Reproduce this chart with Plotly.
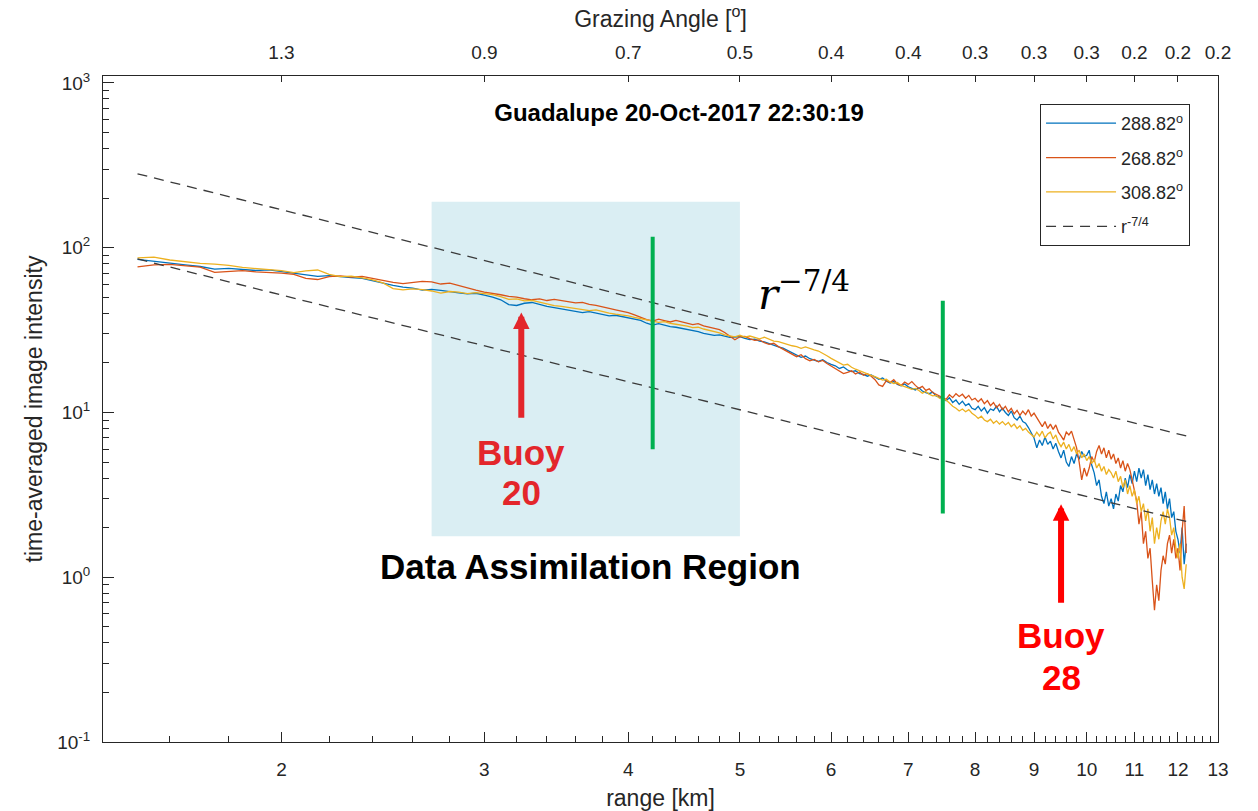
import math
import plotly.graph_objects as go

# ---------------- data ----------------
range_km = [
    1.50, 1.55, 1.60, 1.65, 1.70, 1.75, 1.80, 1.85, 1.90, 1.95,
    2.00, 2.05, 2.10, 2.15, 2.20, 2.25, 2.30, 2.35, 2.40, 2.45,
    2.50, 2.55, 2.60, 2.65, 2.70, 2.75, 2.80, 2.85, 2.90, 2.95,
    3.00, 3.05, 3.10, 3.15, 3.20, 3.25, 3.30, 3.35, 3.40, 3.45,
    3.50, 3.55, 3.60, 3.65, 3.70, 3.75, 3.80, 3.85, 3.90, 3.95,
    4.00, 4.05, 4.10, 4.15, 4.20, 4.25, 4.30, 4.35, 4.40, 4.45,
    4.50, 4.55, 4.60, 4.65, 4.70, 4.75, 4.80, 4.85, 4.90, 4.95,
    5.00, 5.05, 5.10, 5.15, 5.20, 5.25, 5.30, 5.35, 5.40, 5.45,
    5.50, 5.55, 5.60, 5.65, 5.70, 5.75, 5.80, 5.85, 5.90, 5.95,
    6.00, 6.05, 6.10, 6.15, 6.20, 6.25, 6.30, 6.35, 6.40, 6.45,
    6.50, 6.55, 6.60, 6.65, 6.70, 6.75, 6.80, 6.85, 6.90, 6.95,
    7.00, 7.05, 7.10, 7.15, 7.20, 7.25, 7.30, 7.35, 7.40, 7.45,
    7.50, 7.55, 7.60, 7.65, 7.70, 7.75, 7.80, 7.85, 7.90, 7.95,
    8.00, 8.05, 8.10, 8.15, 8.20, 8.25, 8.30, 8.35, 8.40, 8.45,
    8.50, 8.55, 8.60, 8.65, 8.70, 8.75, 8.80, 8.85, 8.90, 8.95,
    9.00, 9.05, 9.10, 9.15, 9.20, 9.25, 9.30, 9.35, 9.40, 9.45,
    9.50, 9.55, 9.60, 9.65, 9.70, 9.75, 9.80, 9.85, 9.90, 9.95,
    10.00, 10.05, 10.10, 10.15, 10.20, 10.25, 10.30, 10.35, 10.40, 10.45,
    10.50, 10.55, 10.60, 10.65, 10.70, 10.75, 10.80, 10.85, 10.90, 10.95,
    11.00, 11.05, 11.10, 11.15, 11.20, 11.25, 11.30, 11.35, 11.40, 11.45,
    11.50, 11.55, 11.60, 11.65, 11.70, 11.75, 11.80, 11.85, 11.90, 11.95,
    12.00, 12.05, 12.10, 12.15, 12.20,
]

intensity_288 = [
    85.0, 82.5, 80.8, 78.6, 76.9, 74.2, 74.9, 73.8, 72.7, 73.4,
    71.5, 70.2, 68.1, 67.0, 67.6, 66.4, 65.8, 65.1, 62.9, 61.2,
    59.0, 57.6, 56.8, 55.2, 55.8, 55.0, 53.9, 53.2, 52.5, 52.9,
    51.5, 50.2, 48.3, 45.1, 44.6, 46.0, 46.5, 45.2, 44.1, 43.3,
    42.6, 41.9, 41.2, 40.4, 40.9, 40.0, 39.1, 38.6, 38.9, 38.1,
    37.6, 36.9, 36.2, 34.8, 33.9, 34.6, 33.8, 33.2, 32.9, 32.4,
    32.0, 31.4, 30.9, 30.2, 29.9, 29.4, 29.6, 29.0, 28.6, 28.7,
    28.9, 28.2, 27.7, 27.9, 27.1, 26.8, 26.2, 25.4, 25.0, 24.6,
    23.8, 23.0, 22.1, 21.6, 22.0, 21.2, 20.8, 20.4, 20.9, 20.1,
    19.6, 19.2, 18.5, 18.9, 18.1, 17.7, 17.9, 17.2, 17.0, 16.6,
    16.9, 16.3, 15.9, 16.2, 15.5, 15.1, 15.4, 14.8, 14.5, 14.9,
    14.3, 14.0, 13.7, 14.1, 13.5, 13.2, 13.0, 13.3, 12.6, 12.4,
    12.1, 11.8, 12.3, 11.5, 11.9, 11.2, 11.7, 11.0, 11.3, 10.6,
    10.4, 10.9, 10.2, 10.7, 9.9, 10.5, 10.3, 10.9, 10.1, 10.6,
    10.0, 9.6, 10.2, 9.3, 9.0, 9.5, 8.8, 8.6, 8.1, 7.6,
    7.0, 6.1, 6.8, 6.3, 7.1, 6.4, 6.7, 6.0, 6.5, 5.8,
    5.3, 5.9, 5.0, 4.7, 5.4, 4.9, 5.6, 5.2, 5.8, 5.4,
    5.5, 5.9, 4.8, 4.3, 3.6, 3.9, 3.1, 2.8, 3.3, 2.7,
    3.0, 2.6, 3.2, 2.9, 3.6, 3.3, 4.0, 3.5, 4.2, 3.7,
    4.4, 3.8, 4.6, 4.0, 4.5, 3.6, 4.2, 3.4, 3.9, 3.2,
    3.7, 3.1, 3.5, 2.8, 3.3, 2.6, 3.0, 2.3, 2.5, 1.9,
    1.7, 1.4, 2.0, 1.2, 1.6,
]

intensity_268 = [
    76.5, 78.6, 79.2, 77.8, 76.3, 70.8, 71.9, 72.6, 71.4, 70.8,
    70.1, 68.9, 65.2, 64.1, 66.8, 67.4, 66.2, 67.0, 65.1, 63.6,
    61.5, 60.6, 61.8, 62.4, 62.0, 60.2, 60.9, 58.7, 56.9, 55.2,
    53.8, 52.9, 51.8, 50.6, 50.1, 49.0, 48.3, 48.9, 47.8, 48.5,
    47.6, 47.1, 46.2, 46.6, 45.3, 44.6, 43.9, 42.8, 41.9, 41.2,
    40.3, 39.1, 37.9, 36.6, 35.9, 36.8, 36.1, 35.4, 36.2, 35.5,
    34.8, 34.1, 34.6, 33.5, 32.9, 32.4, 31.8, 30.6, 29.2, 27.6,
    28.8, 28.9, 28.1, 27.4, 27.6, 26.5, 25.9, 26.3, 25.1, 24.2,
    23.5, 22.6, 21.8, 22.4, 21.2, 20.6, 21.0, 20.3, 20.7, 19.8,
    19.1, 18.6, 17.8, 17.2, 17.5, 17.9, 17.1, 17.6, 16.8, 17.2,
    16.6, 15.8, 14.7, 14.4, 15.6, 15.2, 15.8, 14.9, 14.6, 15.3,
    14.8, 15.4, 14.6, 14.0, 14.4, 13.6, 13.9, 13.2, 12.9, 12.6,
    12.4, 12.0, 12.8, 12.3, 13.0, 12.5, 12.9, 12.2, 12.7, 11.9,
    12.2, 11.6, 12.1, 11.3, 11.8, 11.0, 11.5, 10.7, 11.2, 10.4,
    10.9, 10.1, 10.6, 9.8, 10.3, 9.6, 10.2, 9.7, 10.4, 9.5,
    9.9, 9.3, 8.6, 8.2, 8.8, 8.0, 8.5, 7.9, 8.4, 7.6,
    7.2, 6.8, 7.6, 7.3, 7.7, 6.9, 6.1, 5.0, 3.9, 4.6,
    4.1, 4.6, 5.4, 5.0, 5.8, 6.3, 5.6, 6.1, 5.3, 5.9,
    5.2, 5.6, 4.9, 5.3, 4.6, 5.1, 4.4, 4.9, 4.5, 3.9,
    3.3, 2.9, 2.1, 2.5, 1.6, 1.9, 1.3, 1.5, 0.95, 0.63,
    0.9, 0.72, 1.1, 1.35, 1.2, 1.6, 1.8, 1.4, 1.7, 1.3,
    1.5, 1.1, 1.9, 2.7, 1.4,
]

intensity_308 = [
    86.8, 87.6, 84.2, 81.8, 80.3, 79.5, 78.1, 75.9, 74.8, 73.9,
    72.5, 70.6, 72.4, 73.2, 68.9, 66.7, 67.3, 65.6, 63.8, 61.2,
    56.5, 55.4, 56.2, 55.6, 54.6, 53.0, 54.2, 53.8, 52.7, 53.4,
    52.6, 51.9, 50.4, 48.6, 48.9, 47.6, 47.9, 46.8, 45.9, 44.5,
    44.0, 43.4, 42.8, 42.3, 41.5, 41.9, 40.8, 40.1, 39.5, 39.1,
    38.6, 37.8, 37.2, 36.3, 35.7, 35.2, 35.6, 34.7, 34.3, 33.9,
    33.4, 32.7, 32.9, 32.1, 31.6, 31.2, 30.4, 29.6, 29.1, 28.8,
    29.4, 28.7, 29.1, 28.4, 28.0, 28.6, 27.8, 27.1, 26.9, 26.3,
    25.8, 25.4, 25.1, 24.5, 25.0, 24.4, 24.0, 23.6, 22.9, 22.1,
    21.3, 20.6, 20.1, 19.4, 19.6, 18.8, 18.3, 17.9, 17.4, 17.0,
    16.8, 16.5, 16.0, 15.7, 15.9, 15.3, 15.0, 15.2, 14.6, 14.4,
    14.1, 13.8, 14.0, 13.6, 13.1, 13.4, 12.9, 12.6, 12.7, 12.2,
    12.0, 11.9, 11.4, 10.9, 10.6, 10.2, 10.5, 10.1, 10.4, 9.9,
    9.6, 9.2, 9.5, 9.0, 8.8, 9.1, 8.6, 8.9, 8.5, 8.8,
    8.4, 8.7, 8.2, 8.5, 8.0, 8.3, 7.8, 8.0, 7.6, 7.3,
    7.1, 7.6, 7.2, 7.7, 7.0, 7.4, 7.6, 6.9, 7.3, 6.6,
    6.2, 6.6, 6.0, 6.4, 5.8, 6.2, 5.6, 5.9, 5.3, 5.6,
    5.1, 5.4, 4.9, 5.2, 4.6, 4.9, 4.4, 4.7, 4.2, 4.5,
    4.3, 4.0, 4.4, 3.8, 4.1, 3.5, 3.9, 3.2, 3.6, 3.1,
    3.4, 2.8, 3.1, 2.5, 2.8, 2.2, 2.6, 1.9, 2.3, 1.6,
    2.0, 1.7, 2.2, 2.5, 2.1, 2.6, 2.3, 1.8, 2.0, 1.5,
    1.3, 1.6, 1.0, 0.85, 1.2,
]

series_names = ["288.82<sup>o</sup>", "268.82<sup>o</sup>", "308.82<sup>o</sup>"]
series_colors = ["#0072BD", "#D95319", "#EDB120"]

# r^-7/4 guide lines (end points)
guide_upper_r = [1.5, 12.2]
guide_upper_i = [281.0, 7.2]
guide_lower_r = [1.5, 12.2]
guide_lower_i = [85.4, 2.18]

# green markers
marker_a_r = [4.2, 4.2]
marker_a_i = [5.97, 116.6]
marker_b_r = [7.5, 7.5]
marker_b_i = [2.44, 47.7]

# data assimilation region
region_r = [2.7, 5.0]
region_i = [1.77, 190.0]

# buoys (range, arrow tip, arrow tail, label line positions)
buoy20 = {"r": 3.23, "tip": 40.4, "tail": 9.08, "word_i": 5.72, "num_i": 3.27, "num": "20"}
buoy28 = {"r": 9.5, "tip": 2.77, "tail": 0.686, "word_i": 0.445, "num_i": 0.2477, "num": "28"}

bottom_ticks = [2, 3, 4, 5, 6, 7, 8, 9, 10, 11, 12, 13]
top_tick_labels = ["1.3", "0.9", "0.7", "0.5", "0.4", "0.4", "0.3", "0.3", "0.3", "0.2", "0.2", "0.2"]
y_ticks = [0.1, 1, 10, 100, 1000]
y_tick_labels = ["10<sup>-1</sup>", "10<sup>0</sup>", "10<sup>1</sup>", "10<sup>2</sup>", "10<sup>3</sup>"]

# ---------------- figure ----------------
FONT = "Liberation Sans"
AX = "#262626"
L = math.log10

x_minor = [round(v / 10, 1) for v in range(14, 130, 2) if v % 10 != 0]
y_minor = [m * 10 ** e for e in range(-1, 3) for m in range(2, 10)]

fig = go.Figure()

fig.add_shape(type="rect", xref="x", yref="y",
              x0=region_r[0], x1=region_r[1], y0=region_i[0], y1=region_i[1],
              fillcolor="#DAEEF3", line_width=0, layer="below")

for k, (name, vals, col) in enumerate(zip(series_names, [intensity_288, intensity_268, intensity_308], series_colors)):
    fig.add_trace(go.Scatter(x=range_km, y=vals, mode="lines", name=name, legendgroup="g%d" % k,
                             line=dict(color=col, width=1.3)))

fig.add_trace(go.Scatter(x=guide_upper_r, y=guide_upper_i, mode="lines", name="r<sup>-7/4</sup>",
                         legendgroup="g3", line=dict(color="#3a3a3a", width=1.3, dash="10px,7px")))
fig.add_trace(go.Scatter(x=guide_lower_r, y=guide_lower_i, mode="lines", showlegend=False,
                         legendgroup="g3", line=dict(color="#3a3a3a", width=1.3, dash="10px,7px")))

for rr, ii in [(marker_a_r, marker_a_i), (marker_b_r, marker_b_i)]:
    fig.add_trace(go.Scatter(x=rr, y=ii, mode="lines", showlegend=False, hoverinfo="skip",
                             line=dict(color="#00B050", width=4)))

# invisible companion trace so the top (grazing angle) axis is drawn
fig.add_trace(go.Scatter(x=range_km, y=intensity_288, xaxis="x2", yaxis="y", mode="lines",
                         opacity=0, showlegend=False, hoverinfo="skip", line=dict(width=0)))

# arrows and buoy labels
for b, col in [(buoy20, "#E3262B"), (buoy28, "#FF0000")]:
    fig.add_annotation(x=L(b["r"]), y=L(b["tip"]), ax=L(b["r"]), ay=L(b["tail"]),
                       xref="x", yref="y", axref="x", ayref="y", text="",
                       showarrow=True, arrowhead=2, arrowsize=0.55, arrowwidth=6,
                       arrowcolor=col, standoff=0, startstandoff=0)
    fig.add_annotation(x=L(b["r"]), y=L(b["word_i"]), xref="x", yref="y",
                       text="<b>Buoy</b>", showarrow=False,
                       font=dict(family=FONT, size=35, color=col))
    fig.add_annotation(x=L(b["r"]), y=L(b["num_i"]), xref="x", yref="y",
                       text="<b>%s</b>" % b["num"], showarrow=False,
                       font=dict(family=FONT, size=35, color=col))

fig.add_annotation(x=L(3.71), y=L(1.166), xref="x", yref="y",
                   text="<b>Data Assimilation Region</b>", showarrow=False,
                   font=dict(family=FONT, size=35, color="black"))
fig.add_annotation(x=L(5.68), y=L(54.1), xref="x", yref="y",
                   text="<i>r</i><sup>−7/4</sup>", showarrow=False,
                   font=dict(family="DejaVu Serif", size=42, color="black"))

fig.update_layout(
    width=1258, height=811,
    margin=dict(l=103, r=40, t=76, b=69),
    paper_bgcolor="white", plot_bgcolor="white",
    font=dict(family=FONT, size=19, color=AX),
    showlegend=True,
    title=dict(text="<b>Guadalupe 20-Oct-2017 22:30:19</b>", x=679 / 1258, y=1 - 113 / 811,
               xanchor="center", yanchor="middle", font=dict(family=FONT, size=24, color="black")),
    legend=dict(x=0.8404, y=0.958, xanchor="left", yanchor="top",
                bgcolor="white", bordercolor=AX, borderwidth=1, tracegroupgap=8,
                itemwidth=70,
                font=dict(family=FONT, size=18, color=AX)),
    xaxis=dict(type="log", range=[L(1.4), L(13)], showgrid=False, zeroline=False,
               showline=True, linecolor=AX, linewidth=1, automargin=False,
               tickmode="array", tickvals=bottom_ticks, ticktext=[str(t) for t in bottom_ticks],
               ticks="inside", ticklen=10, tickcolor=AX, tickwidth=1,
               ticklabelstandoff=10,
               minor=dict(tickmode="array", tickvals=x_minor, ticks="inside", ticklen=6,
                          tickcolor=AX, tickwidth=1, showgrid=False),
               title=dict(text="range [km]", font=dict(size=23, color=AX), standoff=18)),
    xaxis2=dict(type="log", range=[L(1.4), L(13)], overlaying="x", side="top", anchor="y",
                showgrid=False, zeroline=False, showline=True, linecolor=AX, linewidth=1,
                automargin=False,
                tickmode="array", tickvals=bottom_ticks, ticktext=top_tick_labels,
                ticks="inside", ticklen=6, tickcolor=AX, tickwidth=1, ticklabelstandoff=8,
                title=dict(text="Grazing Angle [<sup>o</sup>]", font=dict(size=23, color=AX), standoff=8)),
    yaxis=dict(type="log", range=[-1, 3.042], showgrid=False, zeroline=False,
               showline=True, linecolor=AX, linewidth=1, mirror=True, automargin=False,
               tickmode="array", tickvals=y_ticks, ticktext=y_tick_labels,
               ticks="inside", ticklen=11, tickcolor=AX, tickwidth=1, ticklabelstandoff=8,
               minor=dict(tickmode="array", tickvals=y_minor, ticks="inside", ticklen=6,
                          tickcolor=AX, tickwidth=1, showgrid=False),
               title=dict(text="time-averaged image intensity", font=dict(size=23, color=AX), standoff=8)),
)

fig.write_html("out.html")
